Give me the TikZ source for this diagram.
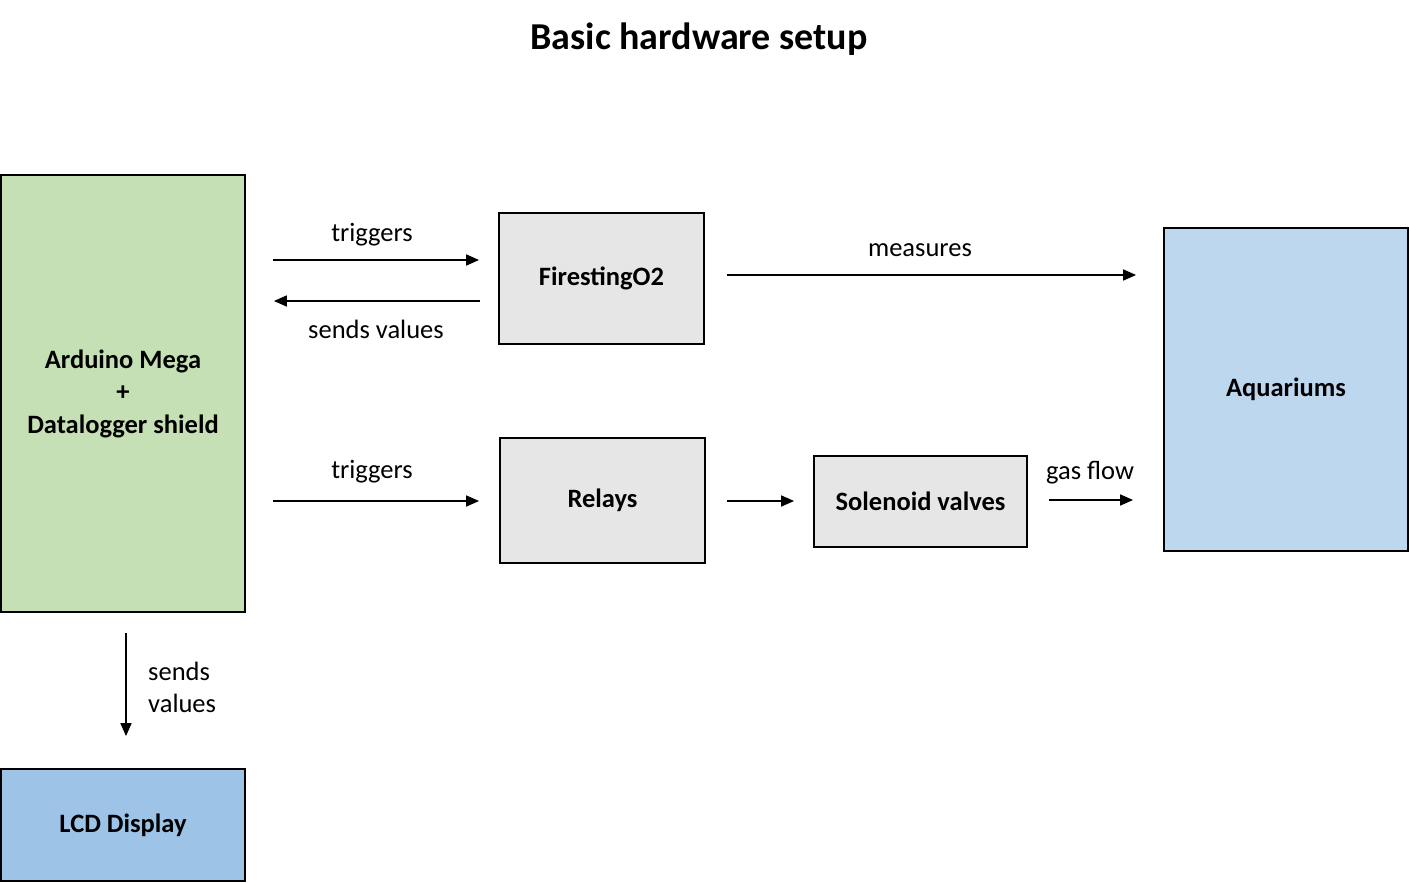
\documentclass[tikz,border=0pt]{standalone}
\usepackage{fontspec}
\setmainfont{Carlito}
\usepackage{xcolor}
\usetikzlibrary{arrows.meta, positioning, calc}

\definecolor{ardgreen}{HTML}{C5E0B4}
\definecolor{boxgray}{HTML}{E7E6E6}
\definecolor{aquablue}{HTML}{BDD7EE}
\definecolor{lcdblue}{HTML}{9DC3E6}

\tikzset{
  hwbox/.style={draw=black, line width=1.8pt, font=\fontsize{26.5}{32.5}\selectfont\bfseries, align=center, inner sep=0pt},
  lbl/.style={font=\fontsize{26.5}{32.5}\selectfont, inner sep=0pt, yshift=-2pt},
  flow/.style={line width=1.7pt, -{Triangle[length=13pt,width=11pt]}}
}

\begin{document}
\begin{tikzpicture}[x=1pt,y=-1pt]
\useasboundingbox (0,0) rectangle (1409,883);
\node[font=\fontsize{38}{46}\selectfont\bfseries,yshift=-2pt] (title) at (699,37) {Basic hardware setup};
% boxes
\node[hwbox,fill=ardgreen,minimum width=244,minimum height=437] (ard) at (123,393.5) {Arduino Mega\\+\\Datalogger shield};
\node[hwbox,fill=lcdblue,minimum width=244,minimum height=112] (lcd) at (123,825) {LCD Display};
\node[hwbox,fill=boxgray,minimum width=205,minimum height=131] (fire) at (601.5,278.5) {FirestingO2};
\node[hwbox,fill=boxgray,minimum width=205,minimum height=125] (relay) at (602.5,500.5) {Relays};
\node[hwbox,fill=boxgray,minimum width=213,minimum height=91] (sol) at (920.5,501.5) {Solenoid valves};
\node[hwbox,fill=aquablue,minimum width=244,minimum height=323] (aqua) at (1286,389.5) {Aquariums};
% connectors
\draw[flow,shorten <=27,shorten >=19] (ard.east |- 0,260) -- (fire.west |- 0,260);
\draw[flow,shorten <=18,shorten >=28] (fire.west |- 0,301) -- (ard.east |- 0,301);
\draw[flow,shorten <=22,shorten >=27] (fire.east |- 0,275) -- (aqua.west |- 0,275);
\draw[flow,shorten <=27,shorten >=20] (ard.east |- 0,501) -- (relay.west |- 0,501);
\draw[flow,shorten <=21,shorten >=19] (relay.east |- 0,501) -- (sol.west |- 0,501);
\draw[flow,shorten <=21,shorten >=30] (sol.east |- 0,500) -- (aqua.west |- 0,500);
\draw[flow,shorten <=20,shorten >=32] (126,0 |- ard.south) -- (126,0 |- lcd.north);
% labels
\node[lbl] (l1) at (372,233) {triggers};
\node[lbl] (l2) at (376,327) {sends values};
\node[lbl] (l3) at (920,248) {measures};
\node[lbl] (l4) at (372,470) {triggers};
\node[lbl] (l5) at (1090,471) {gas flow};
\node[lbl,anchor=west,align=left] (l6) at (148,685.5) {sends\\values};
\end{tikzpicture}
\end{document}
